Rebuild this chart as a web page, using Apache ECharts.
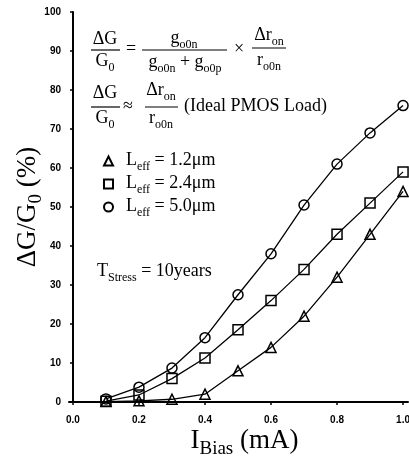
<!DOCTYPE html>
<html>
<head>
<meta charset="utf-8">
<script src="https://cdn.jsdelivr.net/npm/echarts@6/dist/echarts.min.js"></script>
</head>
<body style="margin:0; background:#fff">
<div id="container" style="width:409px; height:460px"></div>
<script>
// values
var biasCurrent = [0.1, 0.2, 0.3, 0.4, 0.5, 0.6, 0.7, 0.8, 0.9, 1.0];
var gain12 = [0.1, 0.3, 0.7, 2.0, 8.0, 14.0, 22.0, 32.0, 43.0, 54.0];
var gain24 = [0.2, 1.8, 6.0, 11.3, 18.5, 26.0, 34.0, 43.0, 51.0, 59.0];
var gain50 = [0.8, 3.8, 8.7, 16.5, 27.5, 38.0, 50.5, 61.0, 69.0, 76.0];
var seriesNames = ['Leff = 1.2μm', 'Leff = 2.4μm', 'Leff = 5.0μm'];
var xTicks = [0, 0.2, 0.4, 0.6, 0.8, 1.0];
var xTickLabels = ['0.0', '0.2', '0.4', '0.6', '0.8', '1.0'];

var serif = 'Liberation Serif';
var chart = echarts.init(document.getElementById('container'));

function pairs(ys) {
    return biasCurrent.map(function (x, i) { return [x, ys[i]]; });
}

// rich styles for main text and subscripts
var rich = {
    m: { fontFamily: serif, fontSize: 18, lineHeight: 20, verticalAlign: 'top', color: '#000' },
    s: { fontFamily: serif, fontSize: 12, lineHeight: 12, padding: [10, 0, 0, 0], verticalAlign: 'top', color: '#000' }
};
var bigRich = {
    m: { fontFamily: serif, fontSize: 27, lineHeight: 29, verticalAlign: 'top', color: '#000' },
    s: { fontFamily: serif, fontSize: 19, lineHeight: 19, padding: [13, 0, 0, 0], verticalAlign: 'top', color: '#000' }
};

function label(x, y, str, align) {
    return {
        type: 'text', x: x, y: y, z: 10,
        style: { text: str, rich: rich, align: align || 'center', verticalAlign: 'middle', fill: '#000' }
    };
}
function bar(x1, x2, y) {
    return {
        type: 'line', z: 10,
        shape: { x1: x1, y1: y, x2: x2, y2: y },
        style: { stroke: '#000', lineWidth: 1.2 }
    };
}

function makeSeries(name, ys, symbol, size) {
    return {
        name: name,
        type: 'line',
        data: pairs(ys),
        symbol: symbol,
        symbolSize: size,
        lineStyle: { color: '#000', width: 1.3 },
        itemStyle: { color: 'rgba(0,0,0,0)', borderColor: '#000', borderWidth: 1.5 },
        emphasis: { disabled: true }
    };
}

var option = {
    animation: false,
    backgroundColor: '#fff',
    grid: { left: 69, right: 1, top: 12, bottom: 58, outerBoundsMode: 'none' },
    xAxis: {
        type: 'value',
        min: -0.012,
        max: 1.015,
        name: '{m|I}{s|Bias}{m| (mA)}',
        nameLocation: 'middle',
        nameGap: 25,
        nameMoveOverlap: false,
        nameTextStyle: { rich: bigRich, padding: [0, 0, 0, 12] },
        axisLine: { lineStyle: { color: '#000', width: 2 } },
        axisTick: { customValues: xTicks, length: 3, lineStyle: { color: '#000', width: 1.5 } },
        axisLabel: {
            customValues: xTicks,
            formatter: function (v) { return xTickLabels[xTicks.indexOf(v)]; },
            color: '#000', fontFamily: 'Liberation Sans', fontWeight: 'bold', fontSize: 10, margin: 13
        },
        splitLine: { show: false }
    },
    yAxis: {
        type: 'value',
        min: 0,
        max: 100,
        interval: 10,
        name: '{m|ΔG/G}{s|0}{m| (%)}',
        nameLocation: 'middle',
        nameRotate: 90,
        nameGap: 26,
        nameMoveOverlap: false,
        nameTextStyle: { rich: bigRich },
        axisLine: { show: true, lineStyle: { color: '#000', width: 2 } },
        axisTick: { show: true, length: 3, lineStyle: { color: '#000', width: 1.5 } },
        axisLabel: { color: '#000', fontFamily: 'Liberation Sans', fontWeight: 'bold', fontSize: 10, margin: 8 },
        splitLine: { show: false }
    },
    legend: {
        orient: 'vertical',
        left: 98,
        top: 146,
        itemWidth: 9,
        itemHeight: 9,
        itemGap: 1,
        selectedMode: false,
        data: [
            { name: seriesNames[0], icon: 'triangle' },
            { name: seriesNames[1], icon: 'rect' },
            { name: seriesNames[2], icon: 'circle' }
        ],
        itemStyle: { color: 'rgba(0,0,0,0)', borderColor: '#000', borderWidth: 2 },
        formatter: function (name) {
            return '{m|L}{s|eff}{m|' + name.slice(4) + '}';
        },
        textStyle: { rich: rich, padding: [0, 0, 0, 8] }
    },
    graphic: [
        // first relation
        label(105, 40, '{m|ΔG}'),
        bar(91, 120, 50),
        label(105, 62, '{m|G}{s|0}'),
        label(131, 50, '{m|=}'),
        label(184, 39, '{m|g}{s|o0n}'),
        bar(142, 227, 50),
        label(185, 63, '{m|g}{s|o0n}{m| + g}{s|o0p}'),
        label(239, 50, '{m|×}'),
        label(269, 36, '{m|Δr}{s|on}'),
        bar(252, 286, 48),
        label(269, 61, '{m|r}{s|o0n}'),
        // second relation
        label(105, 94, '{m|ΔG}'),
        bar(91, 120, 107),
        label(105, 119, '{m|G}{s|0}'),
        label(128, 107, '{m|≈}'),
        label(161, 91, '{m|Δr}{s|on}'),
        bar(145, 178, 107),
        label(161, 119, '{m|r}{s|o0n}'),
        label(184, 107, '{m|(Ideal PMOS Load)}', 'left'),
        // stress time
        label(97, 272, '{m|T}{s|Stress}{m| = 10years}', 'left')
    ],
    series: [
        makeSeries(seriesNames[0], gain12, 'triangle', 10),
        makeSeries(seriesNames[1], gain24, 'rect', 10),
        makeSeries(seriesNames[2], gain50, 'circle', 10)
    ]
};

chart.setOption(option);
</script>
</body>
</html>
